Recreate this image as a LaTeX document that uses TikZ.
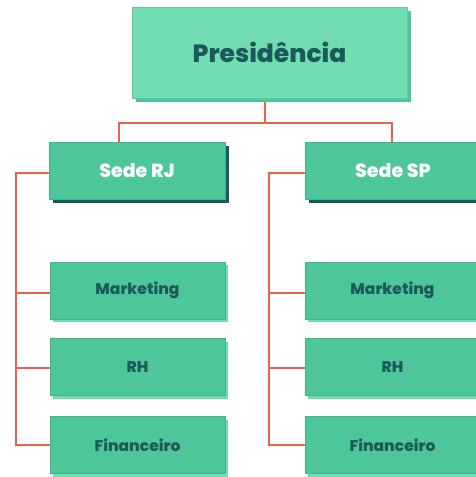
\documentclass[tikz,border=0pt]{standalone}
\usepackage{fontspec}
\setmainfont{Poppins}[BoldFont={Poppins ExtraBold}]
\usetikzlibrary{shadows}
\definecolor{mint}{HTML}{72DDB3}
\definecolor{green}{HTML}{4DC79A}
\definecolor{edge}{HTML}{3FB589}
\definecolor{teal}{HTML}{1B5A5C}
\definecolor{link}{HTML}{E9604F}
\tikzset{
  topbox/.style={fill=mint, draw=mint!90!black, line width=0.4pt, minimum width=275pt, minimum height=91pt,
    text=teal, font=\fontsize{25}{30}\selectfont\bfseries,
    general shadow={fill=green, shadow xshift=4pt, shadow yshift=-4pt}},
  sedebox/.style={fill=green, draw=edge, line width=0.4pt, minimum width=176pt, minimum height=57pt,
    text=white, font=\fontsize{19}{24}\selectfont\bfseries,
    general shadow={fill=teal, shadow xshift=4pt, shadow yshift=-4pt}},
  deptbox/.style={fill=green, draw=edge, line width=0.4pt, minimum width=175pt, minimum height=57pt,
    text=teal, font=\fontsize{15.5}{20}\selectfont\bfseries,
    general shadow={fill=mint, shadow xshift=3pt, shadow yshift=-3pt}},
  conn/.style={draw=link, line width=2pt}
}
\begin{document}
\begin{tikzpicture}[x=1pt,y=-1pt, inner sep=0pt, outer sep=0pt]
\clip (0,0) rectangle (476,477);
\useasboundingbox (0,0) rectangle (476,477);
\fill[white] (0,0) rectangle (476,477);
\coordinate (jt) at (265,123);
\coordinate (tl) at (16,173);
\coordinate (tr) at (269,173);
\coordinate (spj) at (392,123);
\draw[conn] (265,98) -- (jt);
\draw[conn] (119,142) |- (jt) -| (spj) -- (392,142);
\draw[conn] (49,173) -- (tl) |- (50,445);
\draw[conn] (50,292.5) -- (16,292.5);
\draw[conn] (50,368) -- (16,368);
\draw[conn] (305,173) -- (tr) |- (305,445);
\draw[conn] (305,292.5) -- (269,292.5);
\draw[conn] (305,368) -- (269,368);
\node[topbox] (pres) at (269.5,52.5) {Presidência};
\node[sedebox] (rj) at (137,170.5) {Sede RJ};
\node[sedebox] (sp) at (393,170.5) {Sede SP};
\node[deptbox] (mkl) at (137.5,290.5) {Marketing};
\node[deptbox] (rhl) at (137.5,367) {RH};
\node[deptbox] (fil) at (137.5,445) {Financeiro};
\node[deptbox] (mkr) at (392.5,290.5) {Marketing};
\node[deptbox] (rhr) at (392.5,367) {RH};
\node[deptbox] (fir) at (392.5,445) {Financeiro};
\end{tikzpicture}
\end{document}
